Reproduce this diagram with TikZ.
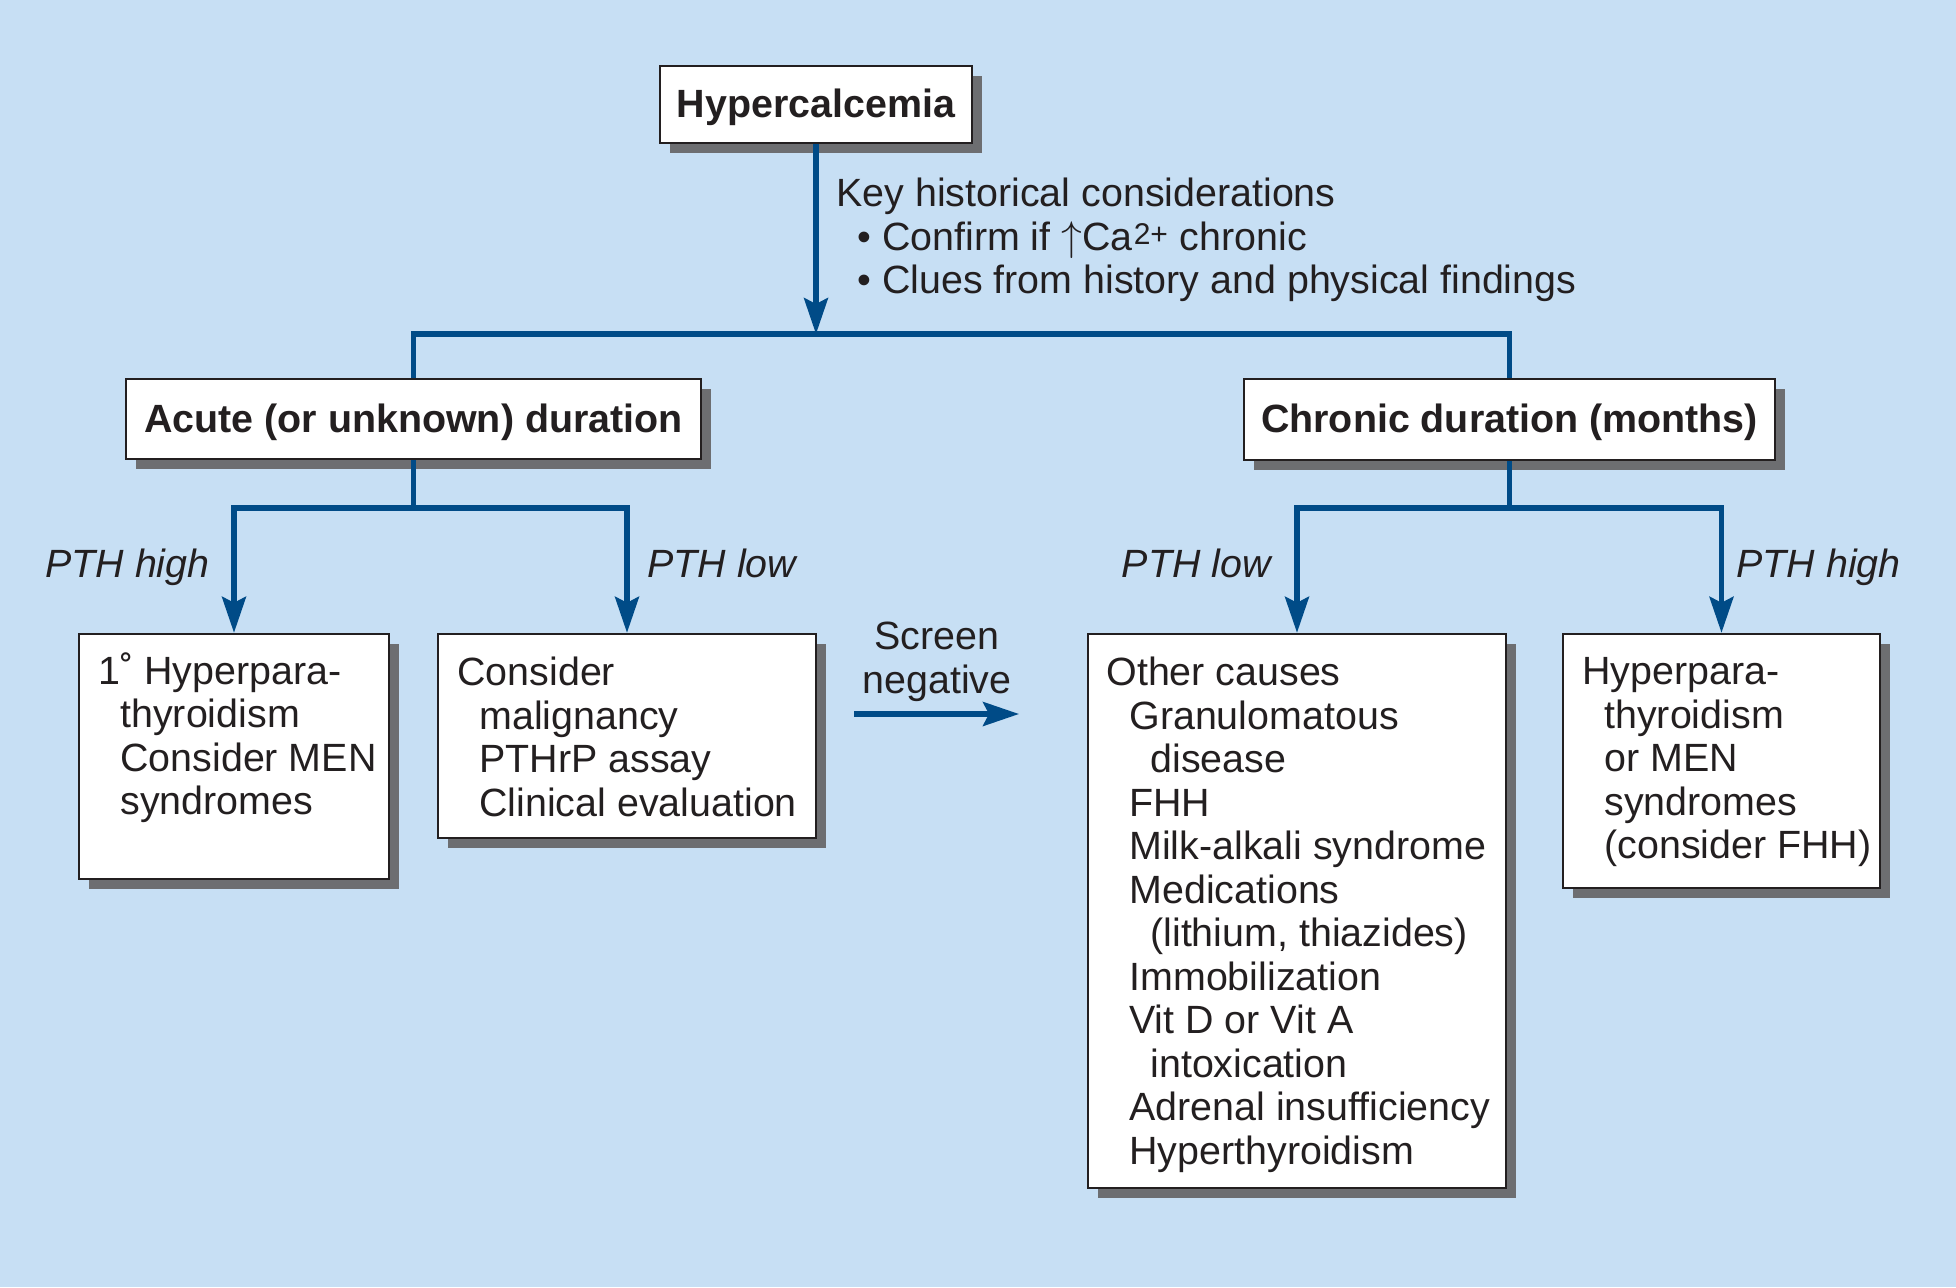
\documentclass[tikz,border=0pt]{standalone}
\usepackage{fontspec}
\setmainfont{Liberation Sans}
\usetikzlibrary{shadows,arrows.meta}
\definecolor{bg}{RGB}{199,223,244}
\definecolor{arrowblue}{RGB}{0,75,135}
\definecolor{shadowgray}{RGB}{109,110,113}
\definecolor{ink}{RGB}{35,31,32}
\begin{document}
\begin{tikzpicture}[x=0.5pt,y=-0.5pt,
  box/.style={draw=ink, line width=1.25pt, fill=white, inner sep=0pt,
    drop shadow={shadow xshift=5pt, shadow yshift=-5pt, fill=shadowgray, opacity=1}},
  titlefont/.style={font=\fontsize{19.7}{21.75}\selectfont\bfseries, text=ink, text height=14pt, text depth=1pt},
  txt/.style={font=\fontsize{19.7}{21.75}\selectfont, text=ink, inner sep=0pt, align=left},
  lbl/.style={font=\fontsize{19.7}{21.75}\selectfont\itshape, text=ink, inner sep=0pt},
  conn/.style={draw=arrowblue, line width=2.6pt},
  arr/.style={conn, -{Stealth[length=18pt, width=12pt, inset=3pt]}}
]
\fill[bg] (0,0) rectangle (1956,1287);
\useasboundingbox (0,0) rectangle (1956,1287);

% top box
\node[box, titlefont, minimum width=156pt, minimum height=38.5pt] (hyper) at (816,104.5) {Hypercalcemia};
\node[txt, anchor=north west] (key) at (836,178)
  {Key historical considerations\\
   \hspace*{10.5pt}• Confirm if $\uparrow$Ca\raisebox{3.2pt}{\fontsize{15}{15}\selectfont\kern0.5pt 2+\kern0.5pt} chronic\\
   \hspace*{10.5pt}• Clues from history and physical findings};

% second level
\node[box, titlefont, minimum width=287.5pt, minimum height=40pt] (acute) at (413.5,419) {Acute (or unknown) duration};
\node[box, titlefont, minimum width=265.5pt, minimum height=40.5pt] (chronic) at (1509.5,419.5) {Chronic duration (months)};

\coordinate (bar) at (816,334);
\coordinate (lvl) at (0,508);

\draw[arr] (hyper.south) -- (bar);
\draw[conn] (acute.north) |- (bar) -| (chronic.north);

% bottom boxes
\node[box, minimum width=155pt, minimum height=122.5pt] (b1) at (234,756.5) {};
\node[box, minimum width=189pt, minimum height=102pt] (b2) at (627,736) {};
\node[box, minimum width=209pt, minimum height=277pt] (b3) at (1297,911) {};
\node[box, minimum width=158.5pt, minimum height=127pt] (b4) at (1721.5,761) {};

\node[txt, anchor=north west] (t1) at (98,652)
  {1˚ Hyperpara-\\
   \hspace*{11pt}thyroidism\\
   \hspace*{11pt}Consider MEN\\
   \hspace*{11pt}syndromes};
\node[txt, anchor=north west] (t2) at (457,657)
  {Consider\\
   \hspace*{11pt}malignancy\\
   \hspace*{11pt}PTHrP assay\\
   \hspace*{11pt}Clinical evaluation};
\node[txt, anchor=north west] (t3) at (1106,657)
  {Other causes\\
   \hspace*{11.5pt}Granulomatous\\
   \hspace*{22pt}disease\\
   \hspace*{11.5pt}FHH\\
   \hspace*{11.5pt}Milk-alkali syndrome\\
   \hspace*{11.5pt}Medications\\
   \hspace*{22pt}(lithium, thiazides)\\
   \hspace*{11.5pt}Immobilization\\
   \hspace*{11.5pt}Vit D or Vit A\\
   \hspace*{22pt}intoxication\\
   \hspace*{11.5pt}Adrenal insufficiency\\
   \hspace*{11.5pt}Hyperthyroidism};
\node[txt, anchor=north west] (t4) at (1582,657)
  {Hyperpara-\\
   \hspace*{11pt}thyroidism\\
   \hspace*{11pt}or MEN\\
   \hspace*{11pt}syndromes\\
   \hspace*{11pt}(consider FHH)};

% branches
\draw[conn] (acute.south) -- (acute.south |- lvl);
\draw[arr] (acute.south |- lvl) -| (b1.north);
\draw[arr] (acute.south |- lvl) -| (b2.north);
\draw[conn] (chronic.south) -- (chronic.south |- lvl);
\draw[arr] (chronic.south |- lvl) -| (b3.north);
\draw[arr] (chronic.south |- lvl) -| (b4.north);

% labels
\node[lbl, anchor=base east] (l1) at (210,577) {PTH high};
\node[lbl, anchor=base west] (l2) at (647,577) {PTH low};
\node[lbl, anchor=base east] (l3) at (1271,577) {PTH low};
\node[lbl, anchor=base west] (l4) at (1736,577) {PTH high};

% screen negative
\node[txt, align=center, anchor=base] (sn) at (937,693) {Screen\\negative};
\coordinate (sna) at (854,714);
\coordinate (snb) at (1019,714);
\draw[arr] (sna) -- (snb);
\end{tikzpicture}
\end{document}
